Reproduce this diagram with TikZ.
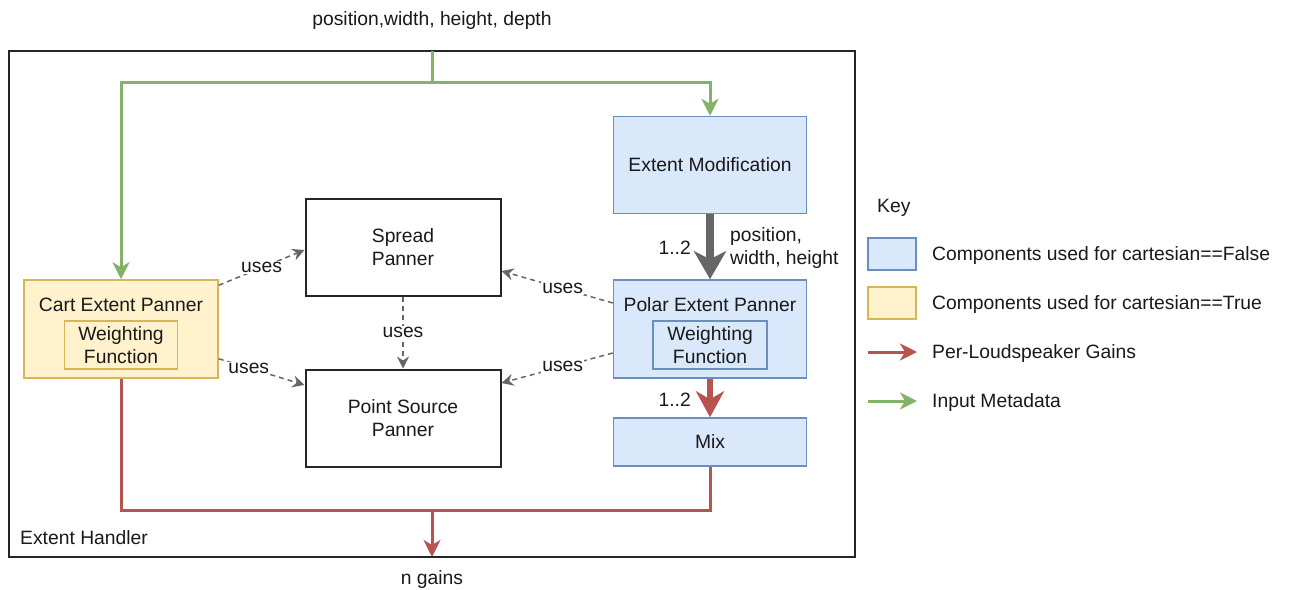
\documentclass[tikz,border=0pt]{standalone}
\usepackage{fontspec}
\setmainfont{Liberation Sans}
\usetikzlibrary{arrows.meta,positioning,calc}
\definecolor{bluefill}{HTML}{DAE8FC}
\definecolor{bluedraw}{HTML}{6C8EBF}
\definecolor{yelfill}{HTML}{FFF2CC}
\definecolor{yeldraw}{HTML}{D6B656}
\definecolor{redline}{HTML}{B85450}
\definecolor{greenline}{HTML}{82B366}
\definecolor{grayline}{HTML}{666666}
\tikzset{
  txt/.style={font=\fontsize{19.3}{23}\selectfont, text=black!90, inner sep=0pt},
  lbl/.style={txt, yshift=-2pt},
  bluebox/.style={txt, draw=bluedraw, fill=bluefill, line width=1.5pt, align=center},
  yelbox/.style={txt, draw=yeldraw, fill=yelfill, line width=1.5pt, align=center},
  plainbox/.style={txt, draw=black!85, fill=white, line width=2pt, align=center},
  garrow/.style={draw=greenline, line width=3pt, -{Stealth[length=17pt,width=17pt,inset=5pt]}},
  rline/.style={draw=redline, line width=3pt},
  rarrow/.style={draw=redline, line width=3pt, -{Stealth[length=17pt,width=17pt,inset=5pt]}},
  usesarrow/.style={draw=grayline, line width=1.5pt, dash pattern=on 5pt off 4pt,
    -{Stealth[length=12pt,width=12pt,inset=4pt]}},
  useslbl/.style={txt, fill=white, inner sep=1pt},
}
\begin{document}
\begin{tikzpicture}[x=1pt,y=-1pt]
\useasboundingbox (0,0) rectangle (1290,589);

% outer frame
\node[draw=black!85, line width=1.5pt, minimum width=846pt, minimum height=506pt, inner sep=0pt]
  (frame) at (432,304) {};
\node[lbl, anchor=west] (handler) at (20,536) {Extent Handler};
\node[lbl] (inlbl) at (432,19) {position,width, height, depth};
\node[lbl] (outlbl) at (432,578) {n gains};

% components
\node[bluebox, minimum width=193pt, minimum height=97pt] (emod) at (710,165) {Extent Modification};
\node[plainbox, minimum width=195pt, minimum height=97pt] (spread) at (403,247) {Spread\\Panner};
\node[plainbox, minimum width=195pt, minimum height=97pt] (point) at (403,418) {Point Source\\Panner};

\node[yelbox, minimum width=194pt, minimum height=98pt] (cart) at (121,329) {};
\node[lbl] (carttitle) at (121,303) {Cart Extent Panner};
\node[yelbox, minimum width=113pt, minimum height=48pt] (cartw) at (121,345) {Weighting\\Function};

\node[bluebox, minimum width=193pt, minimum height=98pt] (polar) at (710,329) {};
\node[lbl] (polartitle) at (710,303) {Polar Extent Panner};
\node[bluebox, minimum width=114pt, minimum height=48pt] (polarw) at (710,345) {Weighting\\Function};

\node[bluebox, minimum width=193pt, minimum height=48pt] (mix) at (710,442) {Mix};

% input metadata
\coordinate (gin) at (432,51);
\draw[garrow] (gin) -- ++(0,31) -| (cart.north);
\draw[garrow] (gin) -- ++(0,31) -| (emod.north);

% extent modification to polar panner
\draw[draw=grayline, line width=8pt, -{Stealth[length=28pt,width=32pt,inset=8pt]}]
  (emod.south) -- (polar.north);
\node[lbl, anchor=east] (n1) at (691,246) {1..2};
\node[lbl, anchor=west, align=left] (pwh) at (730,246) {position,\\width, height};

% polar panner to mix
\draw[draw=redline, line width=6pt, -{Stealth[length=26pt,width=28pt,inset=8pt]}]
  (polar.south) -- (mix.north);
\node[lbl, anchor=east] (n2) at (691,398) {1..2};

% outputs
\coordinate (outc) at (432,510);
\coordinate (gout) at (432,557);
\draw[rline, line join=miter] (cart.south) -- (cart.south |- outc) -- (mix.south |- outc) -- (mix.south);
\draw[rarrow] (outc) -- (gout);

% uses relations
\draw[usesarrow] ($(cart.north east)+(0,6)$) -- node[useslbl, pos=0.5] {uses} ($(spread.west)+(0,3)$);
\draw[usesarrow] ($(cart.south east)+(0,-20)$) -- node[useslbl, pos=0.35] {uses} ($(point.west)+(0,-33)$);
\draw[usesarrow] (spread.south) -- node[useslbl] {uses} (point.north);
\draw[usesarrow] ($(polar.west)+(0,-26)$) -- node[useslbl, pos=0.45] {uses} ($(spread.east)+(0,24)$);
\draw[usesarrow] ($(polar.west)+(0,24)$) -- node[useslbl, pos=0.45] {uses} ($(point.east)+(0,-35)$);

% key
\node[lbl, anchor=west] (key) at (877,206) {Key};
\node[bluebox, minimum width=48pt, minimum height=32pt] (kblue) at (892,254) {};
\node[lbl, anchor=west] (kbluet) at (932,254) {Components used for cartesian==False};
\node[yelbox, minimum width=48pt, minimum height=32pt] (kyel) at (892,303) {};
\node[lbl, anchor=west] (kyelt) at (932,303) {Components used for cartesian==True};
\coordinate (kr0) at (868,352);
\coordinate (kr1) at (917,352);
\draw[rarrow] (kr0) -- (kr1);
\node[lbl, anchor=west] (kredt) at (932,352) {Per-Loudspeaker Gains};
\coordinate (kg0) at (868,401);
\coordinate (kg1) at (917,401);
\draw[garrow] (kg0) -- (kg1);
\node[lbl, anchor=west] (kgrnt) at (932,401) {Input Metadata};
\end{tikzpicture}
\end{document}
